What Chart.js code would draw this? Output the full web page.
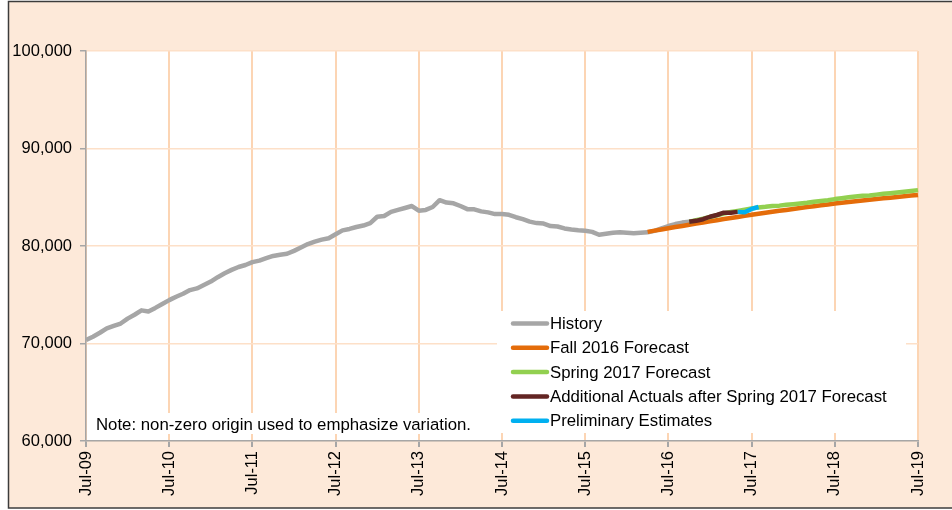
<!DOCTYPE html>
<html>
<head>
<meta charset="utf-8">
<script src="https://cdn.jsdelivr.net/npm/chart.js@4.4.1/dist/chart.umd.min.js"></script>
<style>
html,body{margin:0;padding:0;background:#fff}
#wrap{width:952px;height:510px}
</style>
</head>
<body>
<div id="wrap"><canvas id="chart" width="952" height="510"></canvas></div>
<script>
// month labels Jul-09 .. Jul-19, one tick label per July
const monthNames = ['Jan','Feb','Mar','Apr','May','Jun','Jul','Aug','Sep','Oct','Nov','Dec']
const labels = []
for (let i = 0; i <= 120; i++) {
  let m = (6 + i) % 12, y = 9 + Math.floor((6 + i) / 12)
  labels.push(monthNames[m] + '-' + String(y).padStart(2, '0'))
}

const seriesNames = ['History','Fall 2016 Forecast','Spring 2017 Forecast','Additional Actuals after Spring 2017 Forecast','Preliminary Estimates']

const historyStart = 'Jul-09'
const historyValues = [
70350,70700,71100,71550,71800,72050,72550,72950,73400,73280,73650,74050,
74450,74800,75100,75480,75650,76000,76350,76800,77200,77550,77850,78050,
78350,78500,78750,78980,79100,79200,79500,79850,80200,80450,80650,80800,
81200,81600,81750,81950,82100,82350,83000,83080,83500,83700,83900,84100,
83620,83700,84000,84700,84450,84380,84100,83780,83760,83550,83450,83270,
83280,83200,82950,82750,82500,82350,82300,82050,82000,81800,81700,81620,
81570,81450,81150,81250,81350,81400,81350,81300,81350,81400,81550,81800,
82050,82250,82400,82490]

const fallStart = 'Apr-16'
const fallValues = [
81450,81580,81700,81820,81940,82060,82180,82300,82410,82530,82640,82760,
82870,82980,83090,83200,83310,83410,83510,83610,83700,83800,83890,83990,
84080,84170,84260,84350,84430,84510,84590,84670,84740,84820,84890,84960,
85030,85100,85170,85240]

const springStart = 'Oct-16'
const springValues = [
82490,82650,82800,82980,83150,83330,83480,83600,83720,83840,83960,84020,
84100,84140,84220,84280,84350,84430,84540,84620,84700,84810,84900,84990,
85080,85150,85190,85270,85350,85420,85490,85560,85640,85730]

const actualsStart = 'Oct-16'
const actualsValues = [82490,82580,82750,83000,83180,83420,83400,83500]

const prelimStart = 'May-17'
const prelimValues = [83500,83460,83800,84000]

const colors = ['#a6a6a6','#e46c0a','#92d050','#632523','#00b0f0']

function pad(start, values) {
  const i = labels.indexOf(start)
  return Array(i).fill(null).concat(values)
}

const FONT = '"Liberation Sans", Arial, sans-serif'
Chart.defaults.font.family = FONT
Chart.defaults.color = '#000'

const frame = {
  id: 'frame',
  beforeDraw(chart) {
    const ctx = chart.ctx, a = chart.chartArea
    ctx.save()
    ctx.fillStyle = '#fff'
    ctx.fillRect(0, 0, 952, 510)
    ctx.fillStyle = '#fde9d9'
    ctx.fillRect(8, 1, 960, 507)
    ctx.strokeStyle = '#3c3c3c'
    ctx.lineWidth = 1.5
    ctx.strokeRect(8.5, 1.5, 1000, 506.5)
    ctx.fillStyle = '#fff'
    ctx.fillRect(a.left, a.top, a.right - a.left, a.bottom - a.top)
    ctx.restore()
  },
  afterDraw(chart) {
    const ctx = chart.ctx
    ctx.save()
    // legend box
    ctx.fillStyle = '#fff'
    ctx.fillRect(497, 311, 409, 122)
    ctx.font = '16.8px ' + FONT
    ctx.textBaseline = 'middle'
    chart.data.datasets.forEach((ds, i) => {
      const y = 323.5 + i * 24.3
      ctx.strokeStyle = ds.borderColor
      ctx.lineWidth = 4.5
      ctx.lineCap = 'round'
      ctx.beginPath()
      ctx.moveTo(513, y)
      ctx.lineTo(547, y)
      ctx.stroke()
      ctx.fillStyle = '#000'
      ctx.fillText(ds.label, 550, y + 1)
    })
    // note
    ctx.fillStyle = '#fff'
    ctx.fillRect(90, 413, 388, 21)
    ctx.fillStyle = '#000'
    ctx.fillText('Note: non-zero origin used to emphasize variation.', 96, 425)
    ctx.restore()
  }
}

const starts = [historyStart, fallStart, springStart, actualsStart, prelimStart]
const values = [historyValues, fallValues, springValues, actualsValues, prelimValues]

new Chart(document.getElementById('chart'), {
  type: 'line',
  data: {
    labels: labels,
    datasets: seriesNames.map((name, i) => ({
      label: name,
      data: pad(starts[i], values[i]),
      borderColor: colors[i],
      backgroundColor: colors[i],
      borderWidth: 4.5,
      borderJoinStyle: 'round',
      pointRadius: 0,
      tension: 0,
      order: 5 - i
    }))
  },
  options: {
    responsive: false,
    animation: false,
    events: [],
    layout: { padding: { top: 51, right: 34, left: 0, bottom: 0 } },
    plugins: { legend: { display: false }, tooltip: { enabled: false } },
    scales: {
      x: {
        afterFit: s => { s.height = 69 },
        border: { color: '#a6a6a6', width: 1.5 },
        grid: {
          color: c => c.index % 12 === 0 ? '#fcd5b4' : 'transparent',
          tickColor: c => c.index % 12 === 0 ? '#a6a6a6' : 'transparent',
          lineWidth: 2,
          tickLength: 6
        },
        ticks: {
          autoSkip: false,
          minRotation: 90,
          maxRotation: 90,
          padding: 4,
          font: { size: 16.5 },
          callback: (v, i) => i % 12 === 0 ? labels[i] : ''
        }
      },
      y: {
        min: 60000,
        max: 100000,
        afterFit: s => { s.width = 86 },
        border: { color: '#a6a6a6', width: 1.5 },
        grid: { color: '#fde0c8', lineWidth: 1.5, tickColor: '#a6a6a6', tickLength: 6 },
        ticks: {
          stepSize: 10000,
          padding: 8,
          font: { size: 16.5 },
          callback: v => v.toLocaleString('en-US')
        }
      }
    }
  },
  plugins: [frame]
})
</script>
</body>
</html>
